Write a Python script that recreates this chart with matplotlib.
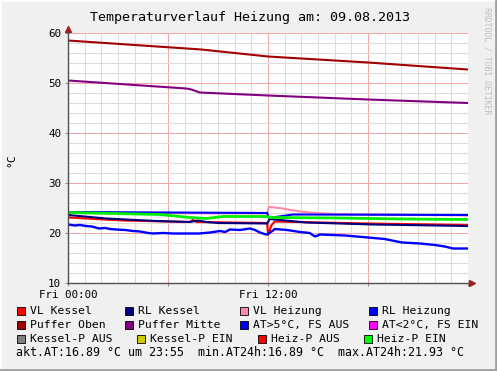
import matplotlib
matplotlib.use("Agg")
import matplotlib.pyplot as plt
from matplotlib.patches import Rectangle
from matplotlib.lines import Line2D
import numpy as np

W, H = 497, 371

# ---------------- data (hours since Fri 00:00, degC) ----------------
t_vl_kessel = [0, 3.3, 7.3, 7.5, 7.7, 11.95, 12.0, 12.1, 12.2, 12.4, 18, 24]
vl_kessel = [23.1, 22.5, 22.2, 22.6, 22.2, 22.0, 19.6, 20.5, 21.5, 22.3, 21.9, 21.6]

t_rl_kessel = [0, 2.3, 5.3, 7.3, 7.8, 8.3, 9, 11.95, 12.1, 14.3, 18.3, 24]
rl_kessel = [23.6, 22.9, 22.4, 22.2, 22.5, 22.2, 22.0, 21.9, 22.8, 22.1, 21.7, 21.4]

t_vl_heizung = [0, 11.95, 12.05, 12.7, 13.9, 14.9, 16, 24]
vl_heizung = [24.0, 23.9, 25.2, 25.0, 24.3, 24.0, 23.8, 23.5]

t_rl_heizung = [0, 11.95, 12.05, 13.5, 24]
rl_heizung = [24.2, 24.0, 23.0, 23.7, 23.6]

t_puffer_oben = [0, 4, 8, 12, 18, 24]
puffer_oben = [58.5, 57.6, 56.7, 55.3, 54.1, 52.7]

t_puffer_mitte = [0, 7.1, 7.4, 7.9, 12, 18, 24]
puffer_mitte = [50.5, 48.9, 48.7, 48.1, 47.5, 46.7, 46.0]

t_at = [0, 0.42, 0.72, 1.08, 1.44, 1.86, 2.22, 2.52, 2.88, 3.42, 3.9, 4.32, 4.8,
        5.1, 5.7, 6.3, 7.0, 7.86, 8.52, 9.12, 9.42, 9.72, 10.32, 10.92, 11.22,
        11.52, 11.88, 12.0, 12.42, 13.14, 13.92, 14.5, 14.82, 15.12, 15.9, 16.62,
        18.0, 19.0, 20.04, 21.12, 22.02, 22.6, 23.1, 24]
at = [21.7, 21.5, 21.6, 21.4, 21.3, 20.9, 21.0, 20.8, 20.7, 20.6, 20.4, 20.3, 20.0,
      19.9, 20.0, 19.9, 19.9, 19.9, 20.1, 20.4, 20.2, 20.7, 20.6, 20.9, 20.6,
      20.1, 19.7, 19.8, 20.8, 20.6, 20.2, 20.0, 19.3, 19.7, 19.6, 19.5,
      19.1, 18.8, 18.1, 17.9, 17.6, 17.3, 16.9, 16.9]

t_heiz_p_ein = [0, 5.5, 7.3, 8.3, 9.3, 11.95, 12.1, 16.2, 20.2, 24]
heiz_p_ein = [24.1, 23.7, 23.1, 22.9, 23.3, 23.3, 23.1, 23.0, 22.8, 22.7]

x_tick_pos = [0, 6, 12, 18, 24]
x_tick_labels = ["Fri 00:00", "", "Fri 12:00", "", ""]
y_ticks = [10, 20, 30, 40, 50, 60]

legend_rows = [
    [("VL Kessel", "#ff0000"), ("RL Kessel", "#000080"),
     ("VL Heizung", "#ff88aa"), ("RL Heizung", "#0000ff")],
    [("Puffer Oben", "#a00000"), ("Puffer Mitte", "#800080"),
     ("AT>5°C, FS AUS", "#0000ff"), ("AT<2°C, FS EIN", "#ff00ff")],
    [("Kessel-P AUS", "#808080"), ("Kessel-P EIN", "#cccc00"),
     ("Heiz-P AUS", "#ff0000"), ("Heiz-P EIN", "#00ff00")],
]
legend_text_x = [[30, 138, 253, 382], [30, 138, 253, 382], [30, 150, 271, 377]]
legend_y = [311, 325, 339]
summary = "akt.AT:16.89 °C um 23:55  min.AT24h:16.89 °C  max.AT24h:21.93 °C"

# ---------------- figure ----------------
mono = "DejaVu Sans Mono"
fig = plt.figure(figsize=(W / 100, H / 100), dpi=100)
fig.patch.set_facecolor("#f0f0f0")

ax = fig.add_axes([68 / W, (H - 283) / H, 400 / W, 250 / H])
ax.set_facecolor("white")
ax.set_xlim(0, 24)
ax.set_ylim(10, 60)

ax.set_xticks(x_tick_pos)
ax.set_xticklabels(x_tick_labels, fontfamily=mono, fontsize=7.8)
ax.set_xticks(np.arange(0, 25, 1), minor=True)
ax.set_yticks(y_ticks)
ax.set_yticklabels([str(v) for v in y_ticks], fontfamily=mono, fontsize=7.8)
ax.set_yticks(np.arange(10, 61, 2), minor=True)
ax.grid(True, which="minor", color="#dcdcdc", lw=0.75)
ax.grid(True, which="major", color="#f2a8a8", lw=0.75)
ax.set_axisbelow(True)
ax.tick_params(which="both", length=2, color="#909090", pad=3)
ax.tick_params(which="minor", length=0)
for s in ["top", "right"]:
    ax.spines[s].set_visible(False)
for s in ["left", "bottom"]:
    ax.spines[s].set_color("#505050")
    ax.spines[s].set_linewidth(1.0)

lw = 1.5
ax.plot(t_vl_kessel, vl_kessel, color="#ff0000", lw=lw)
ax.plot(t_rl_kessel, rl_kessel, color="#000080", lw=lw)
ax.plot(t_vl_heizung, vl_heizung, color="#ff88aa", lw=lw)
ax.plot(t_rl_heizung, rl_heizung, color="#0000ff", lw=lw)
ax.plot(t_puffer_oben, puffer_oben, color="#a00000", lw=lw)
ax.plot(t_puffer_mitte, puffer_mitte, color="#800080", lw=lw)
ax.plot(t_at, at, color="#0000ff", lw=1.7)
ax.plot(t_heiz_p_ein, heiz_p_ein, color="#00ee00", lw=2.0)

# arrows at the axis ends
ax.plot([0], [1.0 + 4 / 250], marker="^", ms=5, color="#a02020",
        transform=ax.transAxes, clip_on=False)
ax.plot([1.0 + 4 / 400], [0], marker=">", ms=5, color="#a02020",
        transform=ax.transAxes, clip_on=False)

ax.set_ylabel("°C", fontfamily=mono, fontsize=8.2)
ax.yaxis.set_label_coords(-52 / 400, 0.49)

fig.text(250 / W, 1 - 17 / H, "Temperaturverlauf Heizung am: 09.08.2013",
         ha="center", va="center", fontfamily=mono, fontsize=9.6)
fig.text(487 / W, 1 - 7 / H, "RRDTOOL / TOBI OETIKER", rotation=270,
         ha="center", va="top", fontfamily=mono, fontsize=5.9, color="#c0c0c0")

# legend
for row, xs, y in zip(legend_rows, legend_text_x, legend_y):
    for (label, col), x in zip(row, xs):
        fig.patches.append(Rectangle(((x - 13) / W, 1 - (y + 4) / H), 8 / W, 8 / H,
                                     transform=fig.transFigure, facecolor=col,
                                     edgecolor="black", lw=0.6))
        fig.text(x / W, 1 - y / H, label, ha="left", va="center",
                 fontfamily=mono, fontsize=8.2)
fig.text(16 / W, 1 - 353 / H, summary, ha="left", va="center",
         fontfamily=mono, fontsize=8.4)

# 3D-style frame: light top/left, grey bottom/right
lx, ly = 1 / W, 1 / H
fig.lines.append(Line2D([lx, lx], [0, 1], transform=fig.transFigure,
                        color="#fcfcfc", lw=1.5))
fig.lines.append(Line2D([0, 1], [1 - ly, 1 - ly], transform=fig.transFigure,
                        color="#fcfcfc", lw=1.5))
fig.lines.append(Line2D([1 - lx, 1 - lx], [0, 1], transform=fig.transFigure,
                        color="#a0a0a0", lw=2.0))
fig.lines.append(Line2D([0, 1], [ly, ly], transform=fig.transFigure,
                        color="#a0a0a0", lw=2.0))

fig.savefig("out.png", dpi=100, facecolor=fig.get_facecolor())
